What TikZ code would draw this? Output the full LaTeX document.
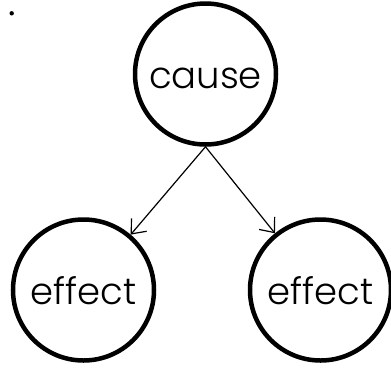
\documentclass[tikz,border=0pt]{standalone}
\usepackage{fontspec}
\setmainfont{Poppins}[UprightFont=* Light]
\usetikzlibrary{arrows.meta}
\begin{document}
\begin{tikzpicture}[x=1pt,y=-1pt,>={Straight Barb[length=12pt,width=20pt]},
  event/.style={circle,draw,line width=4.5pt,minimum size=141pt,inner sep=0pt,
    font=\fontsize{37}{40}\selectfont,text height=29pt,text depth=0pt},
  link/.style={->,line width=1.2pt}]
\useasboundingbox (0,0) rectangle (391,368);
\coordinate (B) at (11.7,13.3);
\coordinate (C) at (205.5,74);
\coordinate (E1) at (83.5,290);
\coordinate (E2) at (320.5,290);
\fill (B) circle (2.2);
\node[event] (cause) at (C) {cause};
\node[event] (effect1) at (E1) {effect};
\node[event] (effect2) at (E2) {effect};
\draw[link] (cause.south) -- (effect1);
\draw[link] (cause.south) -- (effect2);
\end{tikzpicture}
\end{document}
